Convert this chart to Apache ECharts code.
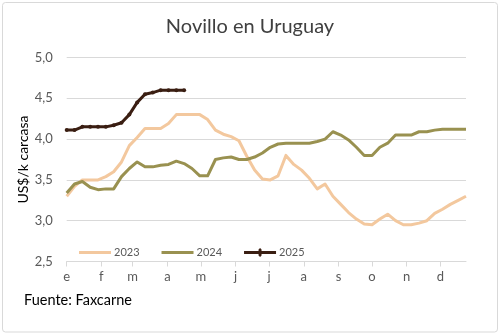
<!DOCTYPE html>
<html>
<head>
<meta charset="utf-8">
<script src="https://cdn.jsdelivr.net/npm/echarts@6/dist/echarts.min.js"></script>
<style>
html,body{margin:0;padding:0;background:#fff;}
#c{width:500px;height:334px;}
</style>
</head>
<body>
<div id="c"></div>
<script>
// Weekly values (week index 0..51)
const monthLabels = ['e','f','m','a','m','j','j','a','s','o','n','d'];
const monthStartDays = [0,31,59,90,120,151,181,212,243,273,304,334];
const yTicks = [2.5, 3.0, 3.5, 4.0, 4.5, 5.0];

const s2023 = [3.30,3.42,3.50,3.50,3.50,3.54,3.60,3.72,3.92,4.02,4.13,4.13,4.13,4.19,4.30,4.30,
  4.30,4.30,4.24,4.11,4.06,4.03,3.98,3.79,3.62,3.51,3.50,3.55,3.80,3.69,3.62,3.52,3.39,3.45,
  3.30,3.20,3.10,3.02,2.96,2.95,3.02,3.08,3.00,2.95,2.95,2.97,3.00,3.09,3.14,3.20,3.25,3.30];
const s2024 = [3.34,3.45,3.48,3.41,3.38,3.39,3.39,3.54,3.64,3.72,3.66,3.66,3.68,3.69,3.73,3.70,
  3.64,3.55,3.55,3.75,3.77,3.78,3.75,3.75,3.78,3.83,3.90,3.94,3.95,3.95,3.95,3.95,3.97,4.00,
  4.09,4.05,3.99,3.90,3.80,3.80,3.90,3.95,4.05,4.05,4.05,4.09,4.09,4.11,4.12,4.12,4.12,4.12];
const s2025 = [4.11,4.11,4.15,4.15,4.15,4.15,4.17,4.20,4.30,4.45,4.55,4.57,4.60,4.60,4.60,4.60];

const FONT = 'Lato';
const toPairs = arr => arr.map((v,i)=>[i,v]);
const monthPos = monthStartDays.map(d => d/7);

const lineIcon = 'path://M0,0L32,0L32,3L0,3Z';
const markIcon = 'path://M0,4L14.5,4L14.5,2.5L16,1L17.5,2.5L17.5,4L32,4L32,7L17.5,7L17.5,8.5L16,10L14.5,8.5L14.5,7L0,7Z';

const chart = echarts.init(document.getElementById('c'), null, {renderer:'canvas'});
chart.setOption({
  animation:false,
  backgroundColor:'#fff',
  textStyle:{fontFamily:FONT},
  title:{
    text:'Novillo en Uruguay', left:'center', top:12,
    textStyle:{fontFamily:FONT, fontSize:20, fontWeight:'normal', color:'#404040'}
  },
  graphic:[
    {type:'rect', shape:{x:2.5,y:2.5,width:495,height:329.5,r:3}, style:{fill:'none',stroke:'#d9d9d9',lineWidth:1}, silent:true, z:-1},
    {type:'text', left:24, top:293, style:{text:'Fuente: Faxcarne', fontFamily:FONT, fontSize:14.5, fill:'#000'}}
  ],
  legend:{
    left:74, top:242, itemWidth:32, itemGap:22,
    textStyle:{fontFamily:FONT, fontSize:11, color:'#595959', padding:[0,0,0,-2]},
    data:[
      {name:'2023', icon:lineIcon, itemHeight:3},
      {name:'2024', icon:lineIcon, itemHeight:3},
      {name:'2025', icon:markIcon, itemHeight:9}
    ]
  },
  grid:{left:66.7, right:34, top:57.5, bottom:72.5},
  xAxis:{
    type:'value', min:0, max:51,
    splitLine:{show:false},
    axisLine:{show:true, lineStyle:{color:'#d9d9d9', width:1}},
    axisTick:{show:true, customValues:monthPos, length:5, lineStyle:{color:'#d9d9d9'}},
    axisLabel:{
      customValues:monthPos, margin:9, fontFamily:FONT, fontSize:13, color:'#595959',
      formatter:(v)=>{ const i = monthPos.findIndex(p=>Math.abs(p-v)<1e-6); return i>=0?monthLabels[i]:''; }
    }
  },
  yAxis:{
    type:'value', min:2.5, max:5, interval:0.5,
    name:'US$/k carcasa', nameLocation:'middle', nameGap:36, nameRotate:90, nameMoveOverlap:false,
    nameTextStyle:{fontFamily:FONT, fontSize:14, color:'#000'},
    axisLine:{show:false}, axisTick:{show:false},
    axisLabel:{margin:14, fontFamily:FONT, fontSize:13, color:'#595959', formatter:v=>v.toFixed(1).replace('.',',')},
    splitLine:{lineStyle:{color:'#d9d9d9', width:1}}
  },
  series:[
    {name:'2023', type:'line', data:toPairs(s2023), showSymbol:false, symbol:'none',
      lineStyle:{color:'#F3C89E', width:3, join:'round'}, itemStyle:{color:'#F3C89E'}},
    {name:'2024', type:'line', data:toPairs(s2024), showSymbol:false, symbol:'none',
      lineStyle:{color:'#999150', width:3, join:'round'}, itemStyle:{color:'#999150'}},
    {name:'2025', type:'line', data:toPairs(s2025), symbol:'circle', symbolSize:4, showSymbol:true,
      lineStyle:{color:'#3A1E12', width:3, join:'round'}, itemStyle:{color:'#3A1E12'}}
  ]
});
</script>
</body>
</html>
